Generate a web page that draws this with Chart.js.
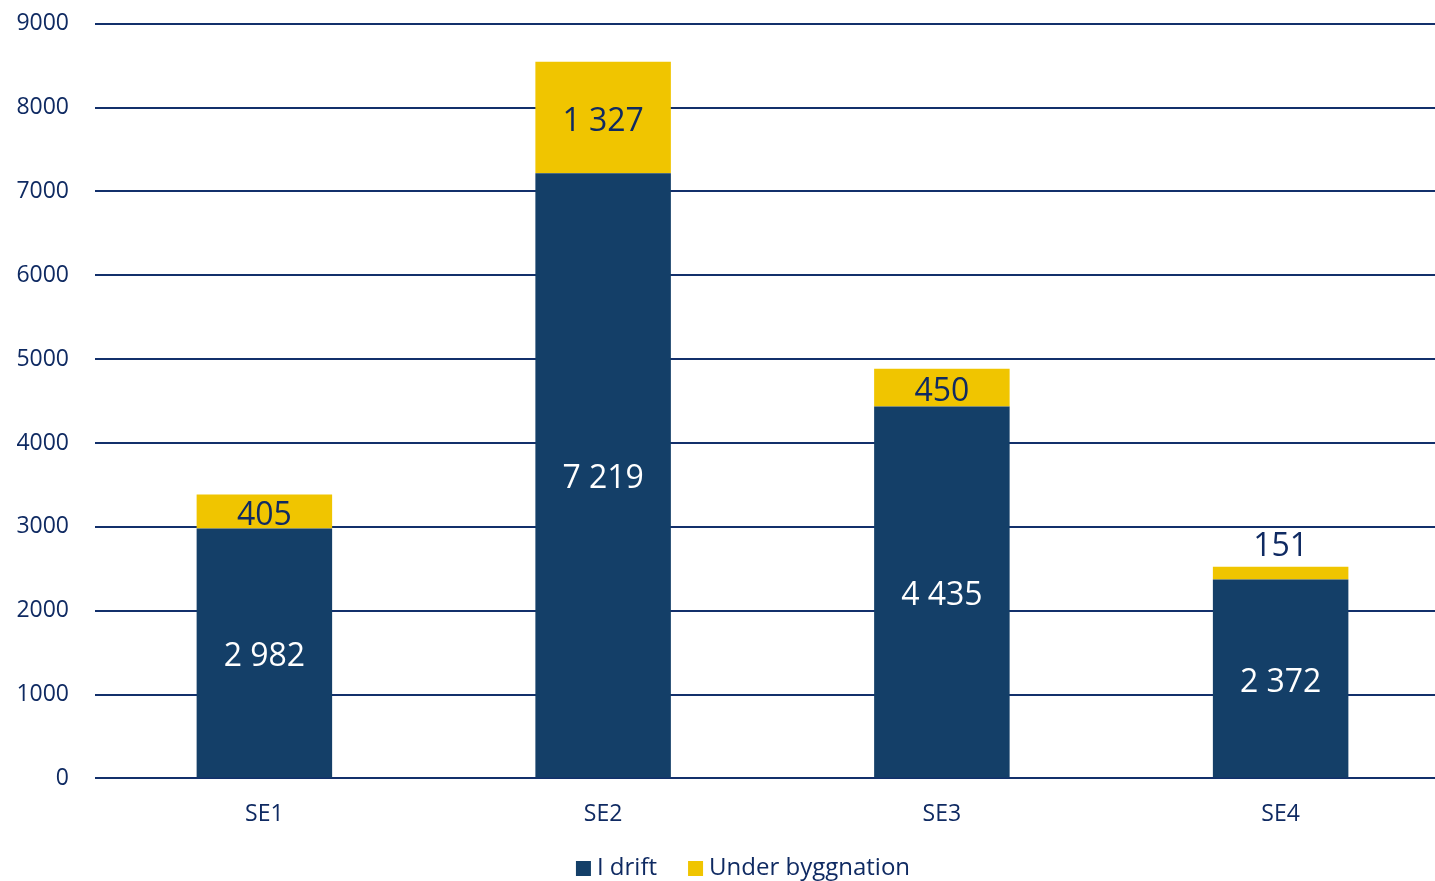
<!DOCTYPE html>
<html>
<head>
<meta charset="utf-8">
<script src="https://cdn.jsdelivr.net/npm/chart.js@4"></script>
<style>
  html, body { margin: 0; padding: 0; background: #fff; overflow: hidden; width: 1435px; height: 881px; }
  #wrap { width: 1450px; height: 907px; margin-top: -16px; }
</style>
</head>
<body>
<div id="wrap"><canvas id="c" width="1450" height="907"></canvas></div>
<script>
const categories = ["SE1", "SE2", "SE3", "SE4"];
const iDrift = [2982, 7219, 4435, 2372];
const underByggnation = [405, 1327, 450, 151];
const seriesNames = ["I drift", "Under byggnation"];
const yTicks = [0, 1000, 2000, 3000, 4000, 5000, 6000, 7000, 8000, 9000];

const NAVY_TEXT = "#0f2a62";
const BAR_NAVY = "#143f68";
const BAR_YELLOW = "#f0c500";
const FONT = "'Open Sans', 'Noto Sans', sans-serif";

function fmt(v) { return String(v).replace(/\B(?=(\d{3})+(?!\d))/g, " "); }

const labelPlugin = {
  id: "barLabels",
  afterDatasetsDraw(chart) {
    const ctx = chart.ctx;
    ctx.save();
    ctx.font = "32px " + FONT;
    ctx.textAlign = "center";
    ctx.textBaseline = "middle";
    chart.data.datasets.forEach((ds, di) => {
      const meta = chart.getDatasetMeta(di);
      meta.data.forEach((bar, i) => {
        const v = ds.data[i];
        const top = Math.min(bar.y, bar.base);
        const h = Math.abs(bar.base - bar.y);
        let y = (bar.y + bar.base) / 2 + 4;
        let color = di === 0 ? "#ffffff" : NAVY_TEXT;
        if (h < 30) { y = top - 20; color = NAVY_TEXT; }
        ctx.fillStyle = color;
        ctx.fillText(fmt(v), bar.x, y);
      });
    });
    ctx.restore();
  }
};

// legend drawn below the x axis, centred like the reference
const legendPlugin = {
  id: "customLegend",
  afterDraw(chart) {
    const ctx = chart.ctx;
    ctx.save();
    ctx.font = "24px " + FONT;
    ctx.textBaseline = "middle";
    ctx.textAlign = "left";
    const box = 15, gapBT = 6, gapItems = 31;
    const items = chart.data.datasets.map(ds => ({ text: ds.label, color: ds.backgroundColor, w: ctx.measureText(ds.label).width }));
    let total = 0;
    items.forEach((it, i) => { total += box + gapBT + it.w + (i < items.length - 1 ? gapItems : 0); });
    let x = 743 - total / 2;
    const cy = 867 + 16;
    items.forEach(it => {
      ctx.fillStyle = it.color;
      ctx.fillRect(x, cy - 6, box, box);
      ctx.fillStyle = NAVY_TEXT;
      ctx.fillText(it.text, x + box + gapBT, cy + 1);
      x += box + gapBT + it.w + gapItems;
    });
    ctx.restore();
  }
};

new Chart(document.getElementById("c"), {
  type: "bar",
  data: {
    labels: categories,
    datasets: [
      { label: seriesNames[0], data: iDrift, backgroundColor: BAR_NAVY, borderWidth: 0 },
      { label: seriesNames[1], data: underByggnation, backgroundColor: BAR_YELLOW, borderWidth: 0 }
    ]
  },
  options: {
    responsive: false,
    animation: false,
    layout: { padding: { top: -3, left: 0, right: 0, bottom: 41 } },
    datasets: { bar: { barPercentage: 0.4, categoryPercentage: 1.0 } },
    plugins: {
      tooltip: { enabled: false },
      legend: { display: false }
    },
    scales: {
      x: {
        stacked: true,
        grid: { display: false, drawTicks: false },
        border: { display: false },
        ticks: { color: NAVY_TEXT, font: { family: FONT, size: 23 }, padding: 22 }
      },
      y: {
        stacked: true,
        min: 0, max: 9000,
        afterBuildTicks(scale) { scale.ticks = yTicks.map(v => ({ value: v })); },
        afterFit(scale) { scale.width = 95; },
        grid: { color: "#13306b", lineWidth: 2, drawTicks: false },
        border: { display: false },
        ticks: {
          color: NAVY_TEXT, font: { family: FONT, size: 23 }, padding: 26,
          callback: (v) => String(v)
        }
      }
    }
  },
  plugins: [labelPlugin, legendPlugin]
});
</script>
</body>
</html>
